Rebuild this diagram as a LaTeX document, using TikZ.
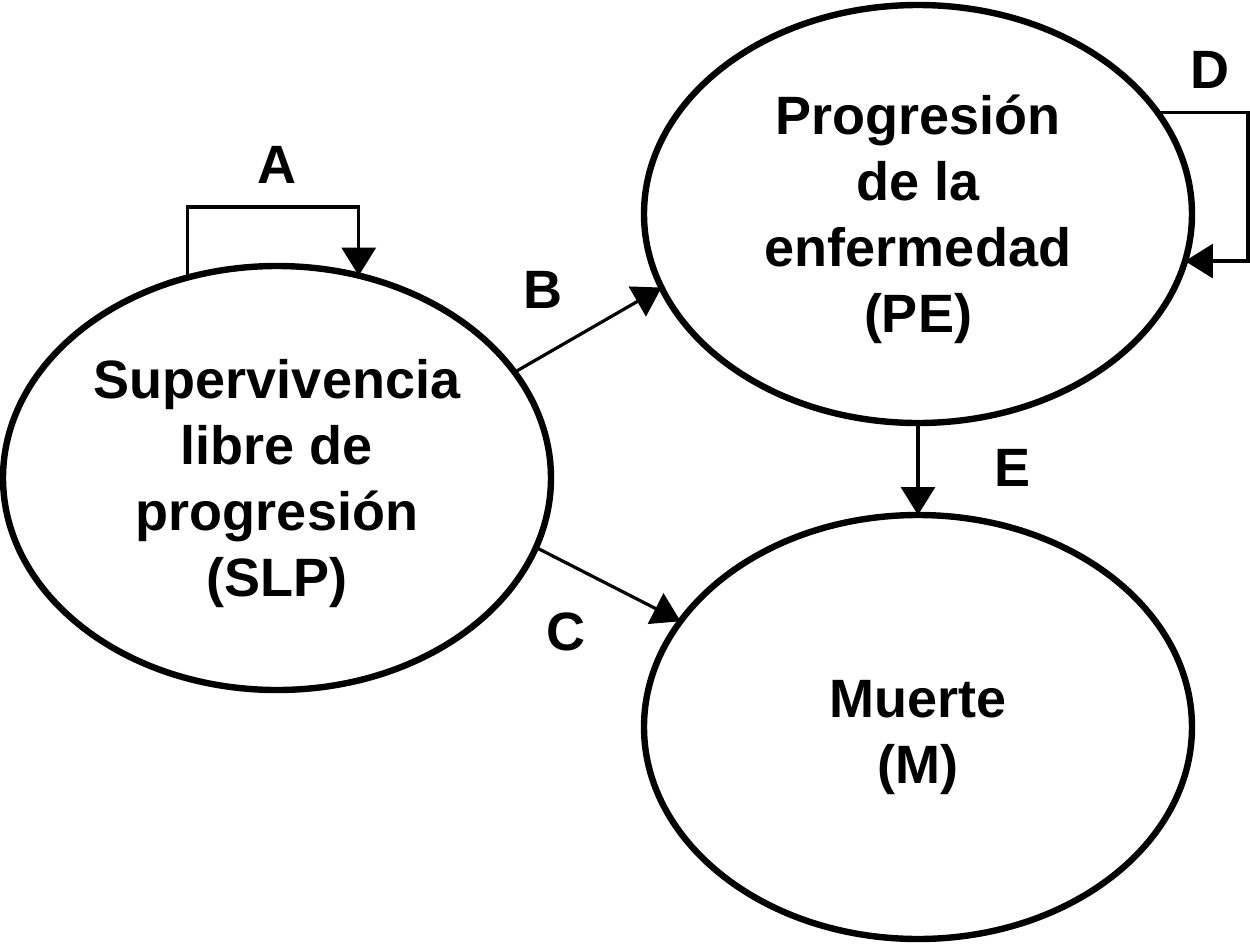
\documentclass[tikz,border=0pt]{standalone}
\usepackage{fontspec}
\setmainfont{Liberation Sans}
\usetikzlibrary{shapes.geometric,arrows.meta}
\newcommand{\topgap}[1]{\rule{0pt}{#1}}
\begin{document}
\begin{tikzpicture}[x=0.5pt,y=-0.5pt,
  state/.style={ellipse,draw,line width=3.2pt,inner sep=0pt,outer sep=0pt,
    minimum width=274pt,minimum height=212pt,align=center,
    font=\fontsize{27}{33}\selectfont\bfseries},
  conn/.style={line width=1.6pt,-{Triangle[width=17pt,length=14pt]}},
  lbl/.style={font=\fontsize{27}{33}\selectfont\bfseries,inner sep=0pt}]
\useasboundingbox (0,0) rectangle (1250,944);
\node[state] (slp) at (277,478) {\topgap{25pt}Supervivencia\\libre de\\progresión\\(SLP)};
\node[state,minimum height=209pt] (pe) at (918,214) {\topgap{25pt}Progresión\\de la\\enfermedad\\(PE)};
\node[state] (m) at (918,727) {\topgap{29pt}Muerte\\(M)};
\coordinate (atop) at (277,207);
\coordinate (dright) at (1248,190);
\draw[conn] (slp.114.7) |- (atop) -| (slp.68.5);
\draw[conn] (slp.24.5) -- (pe.196.4);
\draw[conn] (slp.-15.3) -- (m.156.8);
\draw[conn] (pe.23) -| (dright) |- (pe.-10.8);
\draw[conn] (pe.south) -- (m.north);
\node[lbl] (la) at (277,165) {A};
\node[lbl] (lb) at (543,290) {B};
\node[lbl] (lc) at (566,632) {C};
\node[lbl] (ld) at (1210,70) {D};
\node[lbl] (le) at (1013,468) {E};
\end{tikzpicture}
\end{document}
